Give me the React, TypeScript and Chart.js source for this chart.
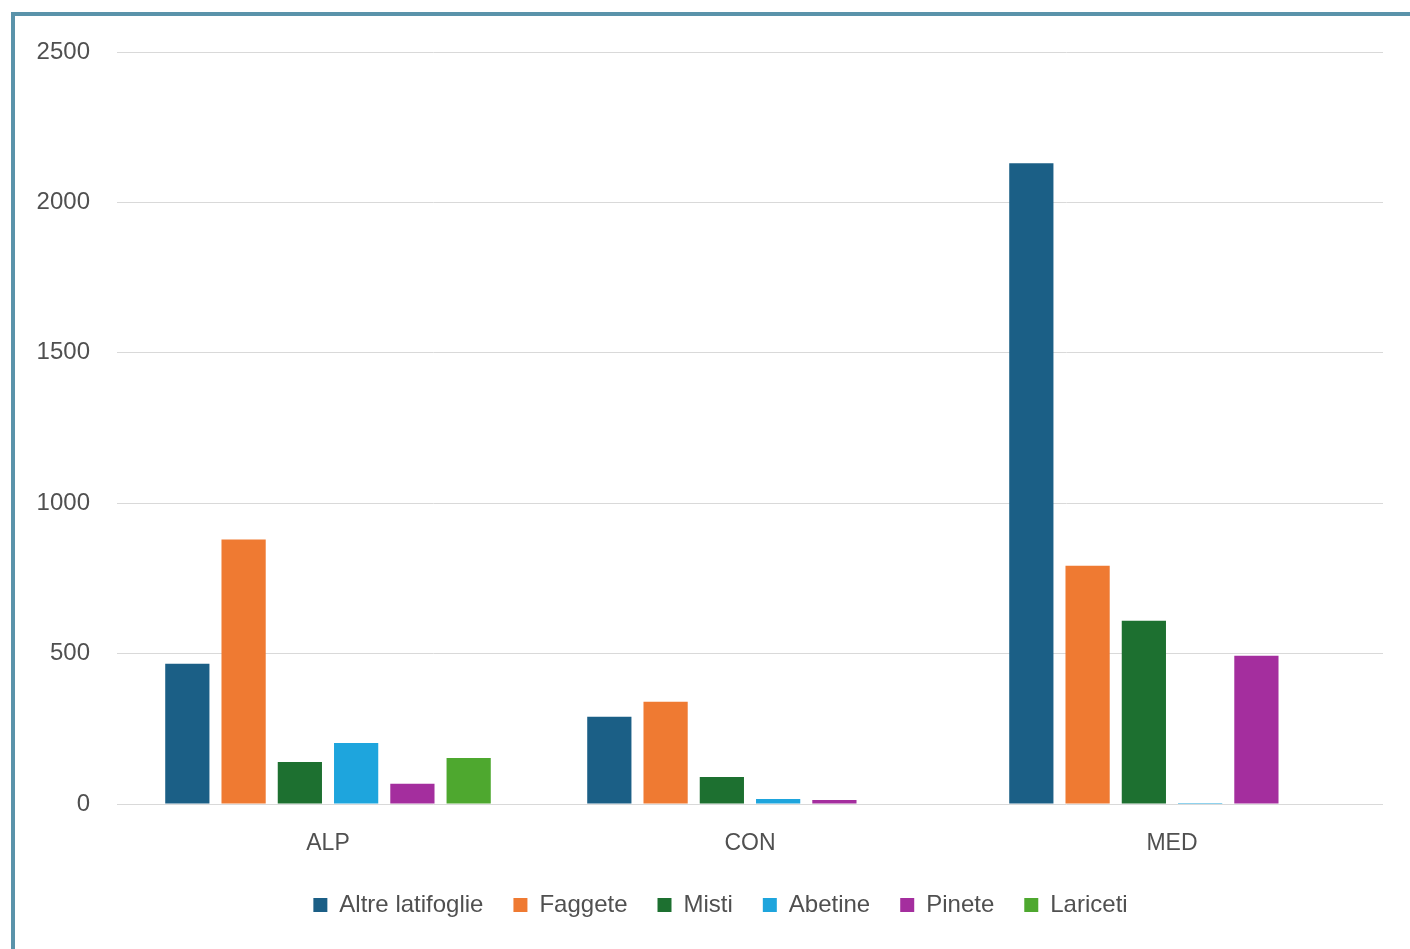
import React, { useEffect, useRef } from "react";
import { Chart, registerables } from "chart.js";

Chart.register(...registerables);

const categories = ["ALP", "CON", "MED"];
const seriesNames = ["Altre latifoglie", "Faggete", "Misti", "Abetine", "Pinete", "Lariceti"];
const altreLatifoglie = [466, 290, 2130];
const faggete = [879, 340, 792];
const misti = [140, 90, 609];
const abetine = [203, 17, 3];
const pinete = [67, 13, 493];
const lariceti = [153, 0, 0];
const seriesColors = ["#1b5f86", "#ef7a32", "#1d7030", "#1ea5dd", "#a42e9e", "#4ea82f"];
const yTicks = [0, 500, 1000, 1500, 2000, 2500];

const FONT = "'Liberation Sans', Arial, sans-serif";

const legendShift = {
  id: "legendShift",
  afterLayout(chart: any) {
    const lg = chart.legend;
    if (lg) {
      lg.left += 29;
      lg.right += 29;
    }
  },
};

export default function App() {
  const ref = useRef<HTMLCanvasElement>(null);
  useEffect(() => {
    if (!ref.current) return;
    const values = [altreLatifoglie, faggete, misti, abetine, pinete, lariceti];
    const chart = new Chart(ref.current, {
      type: "bar",
      data: {
        labels: categories,
        datasets: seriesNames.map((name, i) => ({
          label: name,
          data: values[i],
          backgroundColor: seriesColors[i],
          borderWidth: 0,
          categoryPercentage: 0.8,
          barPercentage: 0.786,
        })),
      },
      plugins: [legendShift],
      options: {
        responsive: false,
        animation: false,
        maintainAspectRatio: false,
        layout: { padding: { top: 52, right: 27, left: 0, bottom: 22 } },
        plugins: {
          tooltip: { enabled: false },
          legend: {
            position: "bottom",
            labels: {
              color: "#505050",
              font: { family: FONT, size: 24 },
              boxWidth: 14,
              boxHeight: 14,
              padding: 30,
            },
          },
        },
        scales: {
          x: {
            grid: { display: false, drawTicks: false },
            border: { display: false },
            ticks: { color: "#505050", font: { family: FONT, size: 23 }, padding: 26 },
            afterFit: (s: any) => {
              s.height = 59;
            },
          },
          y: {
            min: 0,
            max: 2500,
            afterBuildTicks: (s: any) => {
              s.ticks = yTicks.map((v) => ({ value: v }));
            },
            afterFit: (s: any) => {
              s.width = 117;
            },
            grid: { color: "#d9d9d9", lineWidth: 1, drawTicks: false },
            border: { display: false },
            ticks: {
              color: "#505050",
              font: { family: FONT, size: 24 },
              padding: 27,
              callback: (v: any) => String(v),
            },
          },
        },
      },
    });
    return () => chart.destroy();
  }, []);
  return (
    <div style={{ position: "fixed", left: 0, top: 0, width: 1410, height: 949, background: "#ffffff", overflow: "hidden" }}>
      <div
        style={{
          position: "absolute",
          left: 11,
          top: 12,
          width: 1420,
          height: 960,
          borderLeft: "4px solid #5a93aa",
          borderTop: "4px solid #5a93aa",
          background: "#ffffff",
        }}
      />
      <canvas ref={ref} width={1410} height={949} style={{ position: "absolute", left: 0, top: 0 }} />
    </div>
  );
}
